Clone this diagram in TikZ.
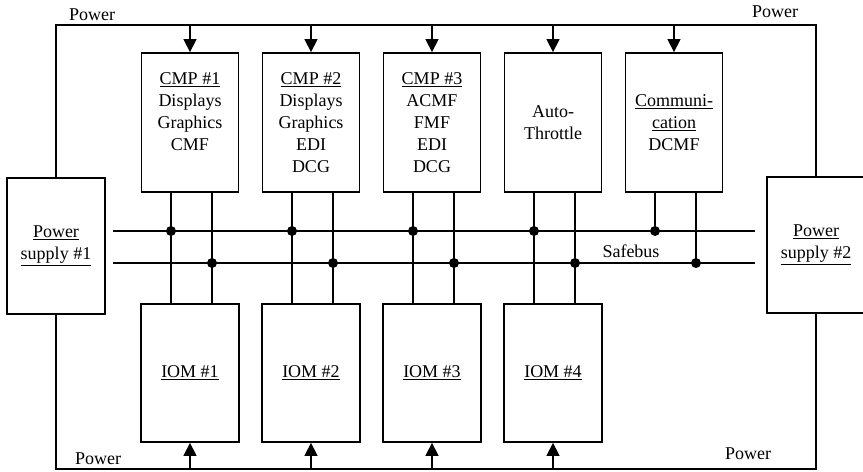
\documentclass[tikz,border=0pt]{standalone}
\usepackage{fontspec}
\setmainfont{Liberation Serif}
\usetikzlibrary{arrows.meta,positioning}

\begin{document}
\begin{tikzpicture}[x=1bp,y=-1bp,line width=1.5bp,
  font=\fontsize{18bp}{22bp}\selectfont,
  unit/.style={draw,line width=1.8bp,minimum width=97bp,minimum height=139bp,align=center,inner sep=0pt},
  iom/.style={unit,minimum width=98bp,minimum height=138bp},
  supply/.style={unit,minimum width=98bp,minimum height=136bp},
  txt/.style={align=center,inner sep=0pt},
  pwr/.style={-{Triangle[length=13bp,width=13bp]}}]
\useasboundingbox (0,0) rectangle (863,472);
\node[supply] (ps1) at (56,246) {\underline{Power}\\\underline{supply \#1}};
\node[supply] (ps2) at (816,245) {\underline{Power}\\\underline{supply \#2}};
\node[unit] (cmp1) at (190,122.5) {};
\node[unit] (cmp2) at (311,122.5) {};
\node[unit] (cmp3) at (432,122.5) {};
\node[unit] (cmp4) at (553,122.5) {Auto-\\Throttle};
\node[unit] (cmp5) at (674,122.5) {\underline{Communi-}\\\underline{cation}\\DCMF};
\node[txt,below=20bp of cmp1.north] (cmp1t) {\underline{CMP \#1}\\Displays\\Graphics\\CMF};
\node[txt,below=20bp of cmp2.north] (cmp2t) {\underline{CMP \#2}\\Displays\\Graphics\\EDI\\DCG};
\node[txt,below=20bp of cmp3.north] (cmp3t) {\underline{CMP \#3}\\ACMF\\FMF\\EDI\\DCG};
\foreach \i/\x in {1/190,2/311,3/432,4/553}
  \node[iom] (iom\i) at (\x,373) {\underline{IOM \#\i}};
\coordinate (ptop) at (0,25);
\coordinate (pbot) at (0,469);
\draw (ps1.north) |- (ps2.north |- ptop) -- (ps2.north);
\draw (ps1.south) |- (ps2.south |- pbot) -- (ps2.south);
\foreach \i in {1,...,5}
  \draw[pwr] (cmp\i.north |- ptop) -- (cmp\i.north);
\foreach \i in {1,...,4}
  \draw[pwr] (iom\i.south |- pbot) -- (iom\i.south);
\coordinate (busa) at (113,231);
\coordinate (busae) at (755,231);
\coordinate (busb) at (113,263);
\coordinate (busbe) at (755,263);
\draw (busa) -- (busae);
\draw (busb) -- (busbe);
\foreach \i in {1,...,4}{
  \draw ([xshift=-19bp]cmp\i.south) -- ([xshift=-19bp]iom\i.north);
  \draw ([xshift=22bp]cmp\i.south) -- ([xshift=22bp]iom\i.north);
}
\draw ([xshift=-19bp]cmp5.south) -- ([xshift=-19bp]cmp5.south |- busa);
\draw ([xshift=22bp]cmp5.south) -- ([xshift=22bp]cmp5.south |- busb);
\foreach \i in {1,...,5}{
  \fill ([xshift=-19bp]cmp\i.south |- busa) circle (5bp);
  \fill ([xshift=22bp]cmp\i.south |- busb) circle (5bp);
}
\node (safebus) at (631,251) {Safebus};
\node (pwr1) at (92,15) {Power};
\node (pwr2) at (775,12) {Power};
\node (pwr3) at (98,459) {Power};
\node (pwr4) at (748,454) {Power};
\end{tikzpicture}
\end{document}
